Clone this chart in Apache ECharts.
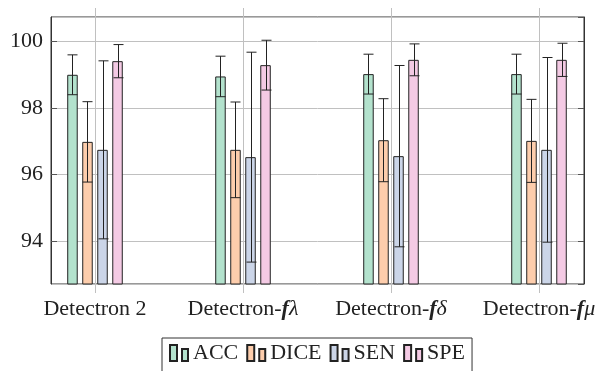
<!DOCTYPE html>
<html>
<head>
<meta charset="utf-8">
<script src="https://cdn.jsdelivr.net/npm/echarts@6/dist/echarts.min.js"></script>
<style>
  html, body { margin: 0; padding: 0; background: #fff; }
  #chart { width: 601px; height: 371px; }
</style>
</head>
<body>
<div id="chart"></div>
<script>
  var categories = ['Detectron 2', 'Detectron-fλ', 'Detectron-fδ', 'Detectron-fμ'];
  var metrics = ['ACC', 'DICE', 'SEN', 'SPE'];

  var accMean = [99.00, 98.95, 99.02, 99.02];
  var accErr = [0.60, 0.61, 0.60, 0.60];
  var diceMean = [96.98, 96.74, 97.03, 97.01];
  var diceErr = [1.21, 1.44, 1.25, 1.25];
  var senMean = [96.74, 96.52, 96.55, 96.74];
  var senErr = [2.68, 3.16, 2.73, 2.78];
  var speMean = [99.41, 99.29, 99.45, 99.45];
  var speErr = [0.50, 0.75, 0.48, 0.50];

  var yMin = 92.7, yMax = 100.74;
  var colors = ['#b3e2cd', '#fdcdac', '#cbd5e8', '#f4cae4'];
  var font = "'Liberation Serif', 'DejaVu Serif', serif";

  var barW = 10.5, barGap = 0.43;
  var step = barW * (1 + barGap);

  var myChart = echarts.init(document.getElementById('chart'));

  function barSeries(name, idx, means) {
    return {
      name: name,
      type: 'bar',
      xAxisIndex: 2,
      yAxisIndex: 3,
      barWidth: barW,
      barGap: (barGap * 100) + '%',
      z: 3,
      itemStyle: {color: colors[idx], borderColor: '#222', borderWidth: 1},
      data: means
    };
  }

  function errSeries(name, idx, means, errs) {
    return {
      name: name + ' err',
      type: 'custom',
      xAxisIndex: 2,
      yAxisIndex: 3,
      z: 5,
      data: means.map(function (m, i) {
        return [i, m - errs[i], m + errs[i]];
      }),
      renderItem: function (params, api) {
        var lo = api.coord([api.value(0), api.value(1)]);
        var hi = api.coord([api.value(0), api.value(2)]);
        var x = Math.round(lo[0] + (idx - 1.5) * step) + 0.5;
        var cap = 5;
        var st = {stroke: '#222', lineWidth: 1};
        return {
          type: 'group',
          children: [
            {type: 'line', shape: {x1: x, y1: lo[1], x2: x, y2: hi[1]}, style: st},
            {type: 'line', shape: {x1: x - cap, y1: lo[1], x2: x + cap, y2: lo[1]}, style: st},
            {type: 'line', shape: {x1: x - cap, y1: hi[1], x2: x + cap, y2: hi[1]}, style: st}
          ]
        };
      }
    };
  }

  myChart.setOption({
    animation: false,
    legend: {
      data: metrics,
      left: 162,
      top: 338,
      padding: [4, 7, 12, 7],
      borderColor: '#333',
      borderWidth: 1,
      itemGap: 8,
      itemWidth: 18,
      itemHeight: 16,
      icon: 'path://M0,0h7v16h-7z M12,4h6v12h-6z',
      textStyle: {fontFamily: font, fontSize: 22, color: '#222'}
    },
    grid: [
      // frame
      {left: 51, right: 17, top: 17, bottom: 87, show: true, borderColor: '#333', borderWidth: 1, outerBoundsMode: 'none'},
      // vertical grid lines (they stick out of the frame)
      {left: 95, right: 62, top: 8, bottom: 78, outerBoundsMode: 'none'},
      // bars
      {left: 21, width: 592, top: 17, bottom: 87, outerBoundsMode: 'none'}
    ],
    xAxis: [
      {gridIndex: 0, type: 'value', show: false},
      {
        gridIndex: 1, type: 'category', data: categories, boundaryGap: false,
        axisLine: {show: false}, axisTick: {show: false}, axisLabel: {show: false},
        splitLine: {show: true, interval: 0, lineStyle: {color: '#c0c0c0', width: 1}}
      },
      {
        gridIndex: 2, type: 'category', data: categories,
        axisLine: {show: false}, axisTick: {show: false},
        axisLabel: {
          interval: 0,
          hideOverlap: false,
          margin: 14,
          fontFamily: font, fontSize: 22, color: '#222',
          formatter: function (v) {
            return v.replace(/-f(.)$/, '-{bi|f}{it|$1}');
          },
          rich: {
            bi: {fontFamily: font, fontSize: 22, fontWeight: 'bold', fontStyle: 'italic', color: '#222'},
            it: {fontFamily: font, fontSize: 22, fontStyle: 'italic', color: '#222'}
          }
        }
      }
    ],
    yAxis: [
      {
        gridIndex: 0, type: 'value', min: yMin, max: yMax,
        axisLine: {show: true, lineStyle: {color: '#333'}},
        axisTick: {show: true, inside: true, length: 6, lineStyle: {color: '#555'}},
        axisLabel: {
          margin: 8, fontFamily: font, fontSize: 22, color: '#222',
          showMinLabel: false, showMaxLabel: false
        },
        splitLine: {show: true, lineStyle: {color: '#c0c0c0', width: 1}}
      },
      {
        gridIndex: 0, type: 'value', min: yMin, max: yMax, position: 'right',
        axisLine: {show: true, lineStyle: {color: '#333'}},
        axisTick: {show: true, inside: true, length: 6, lineStyle: {color: '#555'}},
        axisLabel: {show: false},
        splitLine: {show: false}
      },
      {gridIndex: 1, type: 'value', show: false, splitLine: {show: false}},
      {gridIndex: 2, type: 'value', min: yMin, max: yMax, show: false, splitLine: {show: false}}
    ],
    series: [
      barSeries('ACC', 0, accMean),
      barSeries('DICE', 1, diceMean),
      barSeries('SEN', 2, senMean),
      barSeries('SPE', 3, speMean),
      errSeries('ACC', 0, accMean, accErr),
      errSeries('DICE', 1, diceMean, diceErr),
      errSeries('SEN', 2, senMean, senErr),
      errSeries('SPE', 3, speMean, speErr)
    ]
  });
</script>
</body>
</html>
